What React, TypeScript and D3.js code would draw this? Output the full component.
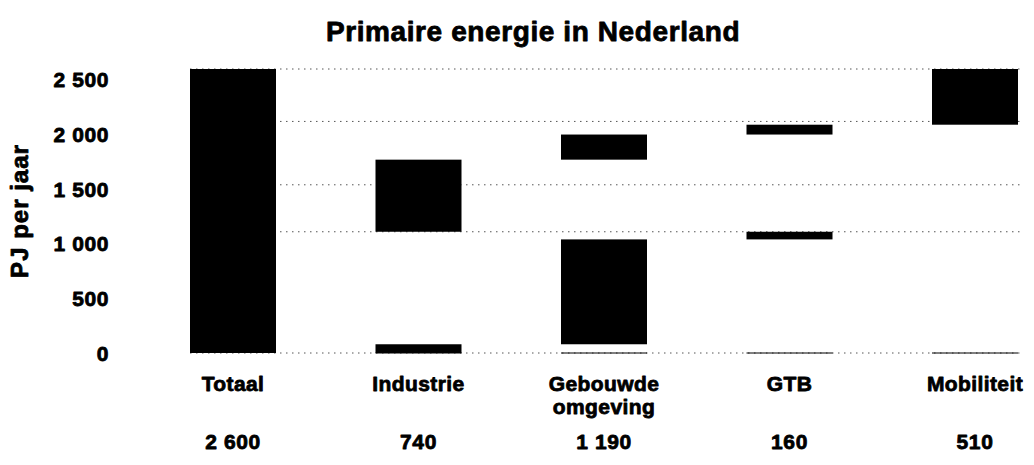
import React from "react";
import * as d3 from "d3";

const title = "Primaire energie in Nederland";
const yAxisTitle = "PJ per jaar";
const categories = ["Totaal", "Industrie", "Gebouwde omgeving", "GTB", "Mobiliteit"];
const categoryLines = [["Totaal"], ["Industrie"], ["Gebouwde", "omgeving"], ["GTB"], ["Mobiliteit"]];
const sectors = ["Industrie", "Gebouwde omgeving", "GTB", "Mobiliteit"];
const lowerValues = [80, 960, 70, 0];
const upperValues = [660, 230, 90, 510];
const totalValue = 2600;
const yTicks = [0, 500, 1000, 1500, 2000, 2500];
const gridValues = [0, 1110, 1540, 2120, 2600];

const fmt = (v: number) => {
  const s = String(Math.round(v));
  return s.replace(/\B(?=(\d{3})+(?!\d))/g, " ");
};

export default function App() {
  const W = 1034, H = 465;
  const y = d3.scaleLinear().domain([0, 2600]).range([353, 69]);
  const x = d3.scalePoint<string>().domain(categories).range([233, 975]);
  const bw = 86;
  const font = "'Liberation Sans', Arial, sans-serif";
  const heavy = { stroke: "#000", strokeWidth: 0.8, strokeLinejoin: "round" as const };

  const lowerTotal = d3.sum(lowerValues);
  const lowerStarts = lowerValues.map((_, i) => d3.sum(lowerValues.slice(0, i)));
  const upperStarts = upperValues.map((_, i) => lowerTotal + d3.sum(upperValues.slice(0, i)));
  const sums = sectors.map((_, i) => lowerValues[i] + upperValues[i]);
  const valueLabels = [totalValue, ...sums];

  const gx0 = (x("Totaal") as number) - bw / 2;
  const gx1 = (x("Mobiliteit") as number) + bw / 2 + 3;

  return (
    <svg width={W} height={H} style={{ position: "absolute", left: 0, top: 0, background: "#fff" }}>
      <text x={533} y={41} textAnchor="middle" fontFamily={font} fontWeight="bold" fontSize={28} letterSpacing={0.6} {...heavy}>
        {title}
      </text>
      <text transform="translate(28,211) rotate(-90)" textAnchor="middle" fontFamily={font} fontWeight="bold" fontSize={24} letterSpacing={1} {...heavy}>
        {yAxisTitle}
      </text>
      {yTicks.map((t) => (
        <text key={t} x={109} y={y(t)} dy="0.36em" textAnchor="end" fontFamily={font} fontWeight="bold" fontSize={21} letterSpacing={0.6} {...heavy}>
          {fmt(t)}
        </text>
      ))}
      {gridValues.map((g) => (
        <line key={g} x1={gx0} x2={gx1} y1={y(g)} y2={y(g)} stroke="#555" strokeWidth={1} strokeDasharray="1.5,4.5" />
      ))}
      <rect x={(x("Totaal") as number) - bw / 2} y={y(totalValue)} width={bw} height={y(0) - y(totalValue)} fill="#000" />
      {sectors.map((s, i) => (
        <g key={s}>
          <line x1={(x(s) as number) - bw / 2} x2={(x(s) as number) + bw / 2} y1={y(0)} y2={y(0)} stroke="#000" strokeWidth={1} />
          {lowerValues[i] > 0 && (
            <rect x={(x(s) as number) - bw / 2} y={y(lowerStarts[i] + lowerValues[i])} width={bw}
              height={y(lowerStarts[i]) - y(lowerStarts[i] + lowerValues[i])} fill="#000" />
          )}
          {upperValues[i] > 0 && (
            <rect x={(x(s) as number) - bw / 2} y={y(upperStarts[i] + upperValues[i])} width={bw}
              height={y(upperStarts[i]) - y(upperStarts[i] + upperValues[i])} fill="#000" />
          )}
        </g>
      ))}
      {categoryLines.map((lines, i) => (
        <text key={categories[i]} x={x(categories[i]) as number} y={391} textAnchor="middle" fontFamily={font} fontWeight="bold" fontSize={21} letterSpacing={0.4} {...heavy}>
          {lines.map((l, j) => (
            <tspan key={j} x={x(categories[i]) as number} dy={j === 0 ? 0 : 23}>{l}</tspan>
          ))}
        </text>
      ))}
      {valueLabels.map((v, i) => (
        <text key={categories[i]} x={x(categories[i]) as number} y={449} textAnchor="middle" fontFamily={font} fontWeight="bold" fontSize={21} letterSpacing={0.6} {...heavy}>
          {fmt(v)}
        </text>
      ))}
    </svg>
  );
}
